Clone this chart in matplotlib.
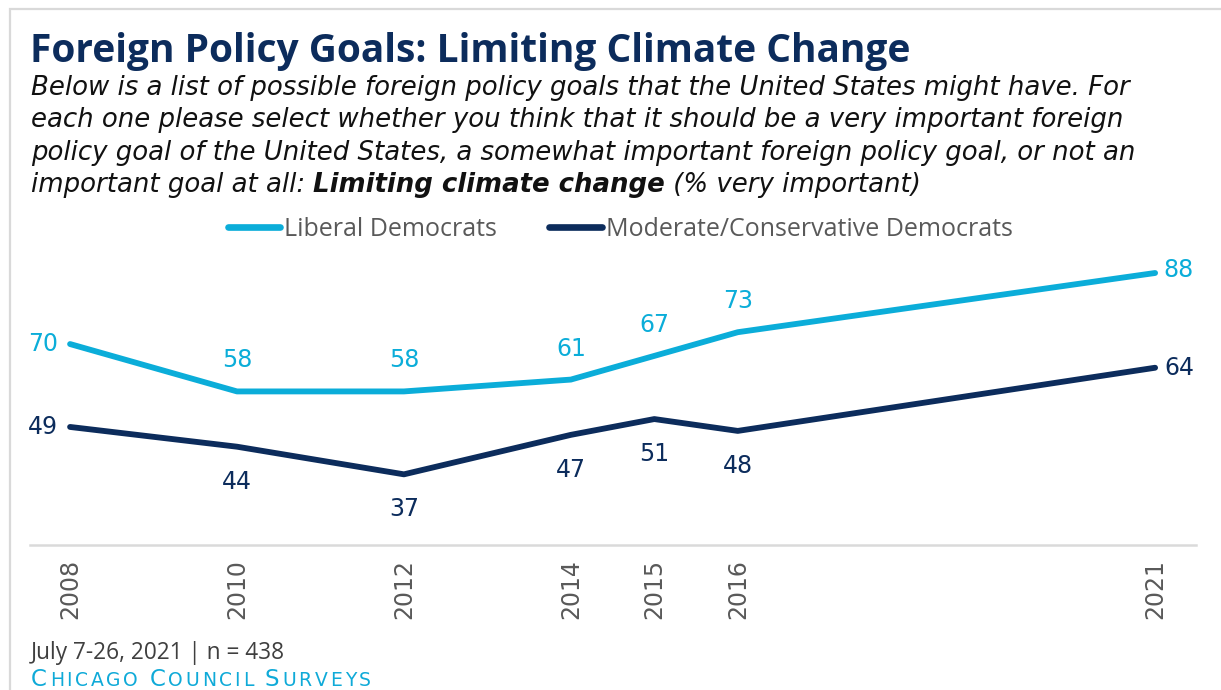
import matplotlib
matplotlib.use("Agg")
import matplotlib.pyplot as plt
from matplotlib.patches import Rectangle

# Survey years and shares saying "very important" (%)
years = [2008, 2010, 2012, 2014, 2015, 2016, 2021]
liberal = [70, 58, 58, 61, 67, 73, 88]
moderate = [49, 44, 37, 47, 51, 48, 64]
series_names = ["Liberal Democrats", "Moderate/Conservative Democrats"]
tick_labels = [str(y) for y in years]

LIGHT = "#0badd9"
NAVY = "#0c2c5c"
GRAY = "#595959"
HEAD = "Open Sans"
BODY = "DejaVu Sans"

W, H = 1221, 690
fig = plt.figure(figsize=(W / 100, H / 100), dpi=100)
fig.patch.set_facecolor("white")


def fx(px):
    return px / W


def fy(py):
    return 1 - py / H


# light frame around the graphic
fig.add_artist(Rectangle((fx(10), fy(H + 20)), fx(W + 20), (H + 20 - 9) / H,
                         transform=fig.transFigure, fill=False,
                         edgecolor="#d9d9d9", linewidth=1.6))

renderer = fig.canvas.get_renderer()


def text_run(x_px, y_px, pieces, tracking=0.0, **common):
    """Draw text pieces one after another on a shared baseline.

    With tracking > 0 each character is placed separately with that many
    extra pixels between letters.
    """
    x = x_px
    for s, kw in pieces:
        chunks = list(s) if tracking else [s]
        for c in chunks:
            t = fig.text(fx(x), fy(y_px), c, va="baseline", ha="left",
                         **{**common, **kw})
            bb = t.get_window_extent(renderer=renderer)
            x += bb.width + tracking
    return x


# Title
fig.text(fx(30), fy(62), "Foreign Policy Goals: Limiting Climate Change",
         fontsize=28, fontweight="bold", color=NAVY, family=HEAD,
         va="baseline")

# Subtitle
sub_lines = [
    "Below is a list of possible foreign policy goals that the United States might have. For",
    "each one please select whether you think that it should be a very important foreign",
    "policy goal of the United States, a somewhat important foreign policy goal, or not an",
]
sub_kw = dict(fontsize=18.7, style="italic", color="#111111", family=BODY)
for i, line in enumerate(sub_lines):
    fig.text(fx(31), fy(95 + i * 32.3), line, va="baseline", **sub_kw)
text_run(31, 95 + 3 * 32.3, [
    ("important goal at all: ", {}),
    ("Limiting climate change", {"fontweight": "bold"}),
    (" (% very important)", {}),
], **sub_kw)

# Plot area
ax = fig.add_axes([fx(30), fy(545), fx(1196) - fx(30), (545 - 250) / H])
ax.set_xlim(2007.52, 2021.49)
ax.set_ylim(19.1, 88 + 23 / 3.95)
for s in ["top", "right", "left"]:
    ax.spines[s].set_visible(False)
ax.spines["bottom"].set_color("#dadada")
ax.spines["bottom"].set_linewidth(1.8)
ax.set_yticks([])
ax.set_xticks(years)
ax.set_xticklabels(tick_labels, rotation=90, fontsize=17, color=GRAY,
                   family=BODY)
ax.tick_params(axis="x", length=0, pad=10)
ax.patch.set_alpha(0)

ax.plot(years, liberal, color=LIGHT, lw=4.2, solid_capstyle="round",
        solid_joinstyle="round", label=series_names[0])
ax.plot(years, moderate, color=NAVY, lw=4.2, solid_capstyle="round",
        solid_joinstyle="round", label=series_names[1])

lab_kw = dict(textcoords="offset pixels", fontsize=17, family=BODY)
for i, (x, v) in enumerate(zip(years, liberal)):
    if i == 0:
        ax.annotate(str(v), (x, v), xytext=(-12, 0), ha="right", va="center",
                    color=LIGHT, **lab_kw)
    elif i == len(years) - 1:
        ax.annotate(str(v), (x, v), xytext=(8, 3), ha="left", va="center",
                    color=LIGHT, **lab_kw)
    else:
        ax.annotate(str(v), (x, v), xytext=(0, 31), ha="center", va="center",
                    color=LIGHT, **lab_kw)
for i, (x, v) in enumerate(zip(years, moderate)):
    if i == 0:
        ax.annotate(str(v), (x, v), xytext=(-12, 0), ha="right", va="center",
                    color=NAVY, **lab_kw)
    elif i == len(years) - 1:
        ax.annotate(str(v), (x, v), xytext=(9, 0), ha="left", va="center",
                    color=NAVY, **lab_kw)
    else:
        ax.annotate(str(v), (x, v), xytext=(0, -35), ha="center", va="center",
                    color=NAVY, **lab_kw)

leg = fig.legend(loc="center", bbox_to_anchor=(fx(620), fy(229)), ncol=2,
                 frameon=False, handlelength=2.1, handletextpad=0.15,
                 columnspacing=2.1, borderaxespad=0, borderpad=0,
                 prop={"family": HEAD, "size": 18})
for t in leg.get_texts():
    t.set_color(GRAY)
for h in leg.get_lines():
    h.set_linewidth(4.8)

# Footer
fig.text(fx(31), fy(659), "July 7-26, 2021 | n = 438", fontsize=16.3,
         color="#3f3f3f", family=HEAD, va="baseline")
brand_kw = dict(color="#0faad8", family=BODY)
pieces = []
for word_i, word in enumerate(["Chicago", "Council", "Surveys"]):
    pieces.append((word[0], {"fontsize": 16.5}))
    pieces.append((word[1:].upper() + (" " if word_i < 2 else ""),
                   {"fontsize": 13.5}))
text_run(31, 686, pieces, tracking=2.75, **brand_kw)

fig.savefig("out.png", dpi=100, facecolor="white")
